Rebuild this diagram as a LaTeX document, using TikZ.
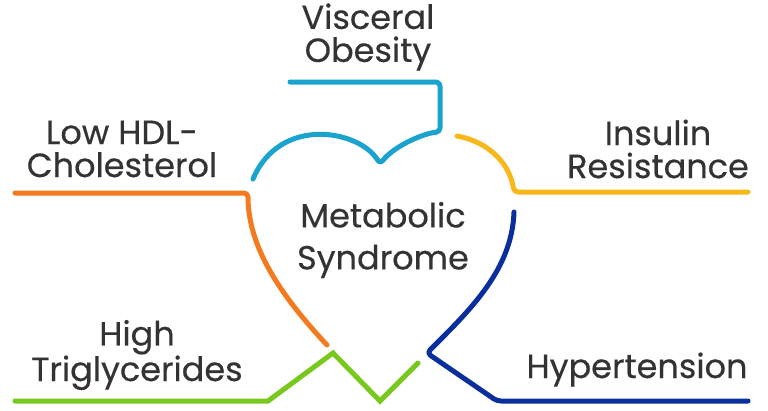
\documentclass[tikz,border=0pt]{standalone}
\usepackage{fontspec}
\setmainfont[FakeBold=0.4]{Poppins}
\definecolor{txt}{HTML}{333333}
\definecolor{cblue}{HTML}{1BA3CF}
\definecolor{corange}{HTML}{F47A20}
\definecolor{cyellow}{HTML}{F9B81A}
\definecolor{cgreen}{HTML}{78C81E}
\definecolor{cnavy}{HTML}{0A2F9C}
\begin{document}
\begin{tikzpicture}[x=1pt,y=-1pt,
  lbl/.style={text=txt,align=center,inner sep=0pt,font=\fontsize{33.5}{33}\selectfont},
  seg/.style={line width=5pt,line cap=round,line join=round,rounded corners=4pt}]
\useasboundingbox (0,0) rectangle (768,410);
\fill[white] (0,0) rectangle (768,410);
% labels
\node[lbl] (vo) at (368,37) {Visceral\\Obesity};
\node[lbl] (hdl) at (122,149) {Low HDL-\\Cholesterol};
\node[lbl] (ir) at (658,149) {Insulin\\Resistance};
\node[lbl,font=\fontsize{33.5}{42}\selectfont] (ms) at (383,240) {Metabolic\\Syndrome};
\node[lbl] (tg) at (137,355) {High\\Triglycerides};
\node[lbl,anchor=base] (ht) at (637,378) {Hypertension};
% coordinates
\coordinate (b0) at (290,82);
\coordinate (b1) at (440,82);
\coordinate (b2) at (440,132);
\coordinate (notch) at (380,164);
\coordinate (bl) at (253,179);
\coordinate (o0) at (15,193);
\coordinate (o1) at (248,193);
\coordinate (o2) at (327,345);
\coordinate (g0) at (15,401);
\coordinate (g1) at (268,401);
\coordinate (g2) at (333,353);
\coordinate (g3) at (380,401);
\coordinate (g4) at (418,363);
\coordinate (n0) at (514,212);
\coordinate (n1) at (427,353);
\coordinate (n2) at (497,401);
\coordinate (n3) at (748,401);
\coordinate (y0) at (457,136);
\coordinate (y1) at (514,192);
\coordinate (y2) at (748,192);
% lines
\draw[seg,cblue] (b0) -- (b1) -- (b2) .. controls (425,133) and (395,145) .. (notch)
   .. controls (360,130) and (280,115) .. (bl);
\draw[seg,corange] (o0) -- (o1) [sharp corners] .. controls (248,250) and (285,300) .. (o2);
\draw[seg,cgreen,line join=miter,rounded corners=0pt] (g0) -- (g1) -- (g2) -- (g3) -- (g4);
\draw[seg,cnavy] (n0) .. controls (512,270) and (470,310) .. (n1) -- (n2) -- (n3);
\draw[seg,cyellow] (y0) .. controls (490,142) and (510,165) .. (y1) -- (y2);
\end{tikzpicture}
\end{document}
